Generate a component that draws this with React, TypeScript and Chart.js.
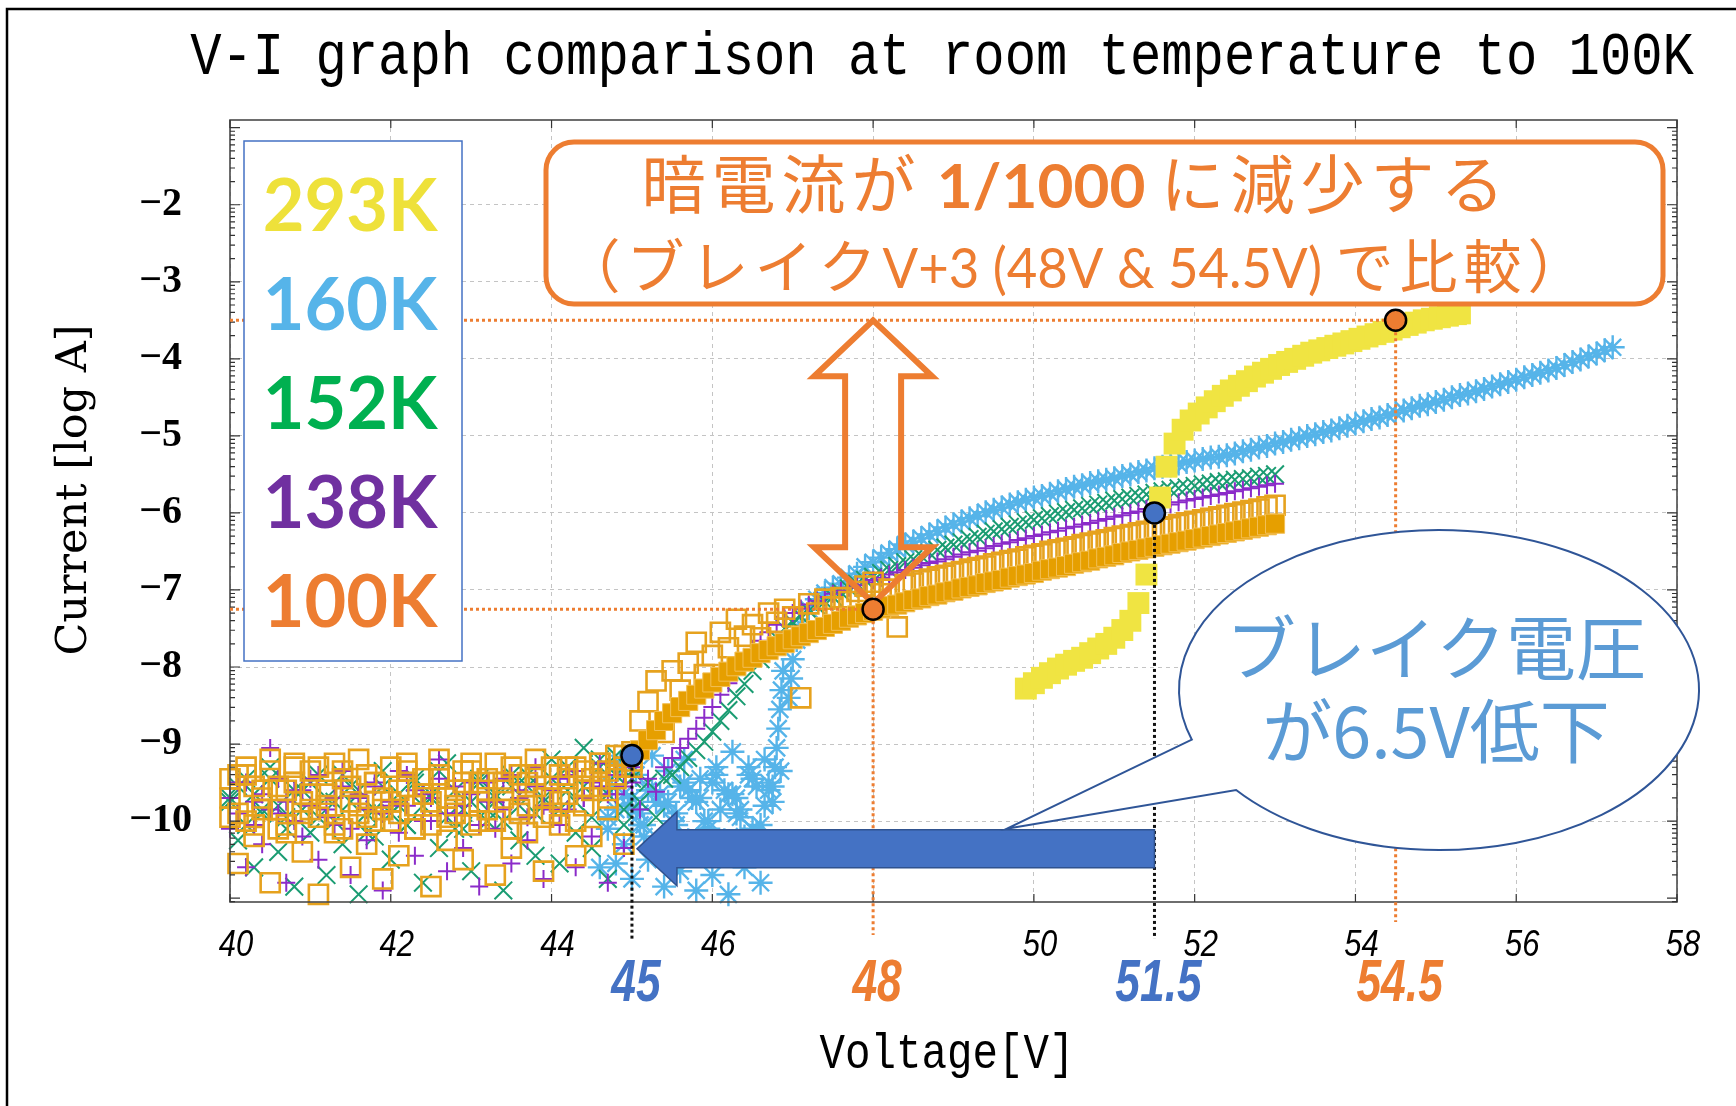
import React, { useEffect, useRef } from 'react';
import { Chart, registerables } from 'chart.js';

Chart.register(...registerables);

const W = 1736;
const H = 1106;

// ---- axes ----
const X_TICKS = [40, 42, 44, 46, 48, 50, 52, 54, 56, 58];
const X_TICK_LABELS = ['40', '42', '44', '46', '', '50', '52', '54', '56', '58'];
const Y_TICKS = [-2, -3, -4, -5, -6, -7, -8, -9, -10];

// ---- low-bias sweep voltages (V) ----
const V_LOW = [
  40.0, 40.1, 40.2, 40.3, 40.4, 40.5, 40.6, 40.7, 40.8, 40.9,
  41.0, 41.1, 41.2, 41.3, 41.4, 41.5, 41.6, 41.7, 41.8, 41.9,
  42.0, 42.1, 42.2, 42.3, 42.4, 42.5, 42.6, 42.7, 42.8, 42.9,
  43.0, 43.1, 43.2, 43.3, 43.4, 43.5, 43.6, 43.7, 43.8, 43.9,
  44.0, 44.1, 44.2, 44.3, 44.4, 44.5, 44.6, 44.7, 44.8, 44.9, 45.0,
];

// dark current below breakdown, log10(I / A)
const I100_LOW_CORE_A = [
  -9.45, -9.90, -9.30, -10.05, -9.60, -9.20, -9.85, -10.15, -9.50, -9.75,
  -9.35, -9.95, -9.65, -9.25, -10.10, -9.55, -9.80, -9.40, -10.00, -9.70,
  -9.30, -9.90, -9.55, -10.10, -9.45, -9.75, -9.20, -9.95, -9.60, -9.35,
  -10.05, -9.50, -9.85, -9.25, -9.70, -10.10, -9.40, -9.80, -9.55, -9.95,
  -9.30, -9.75, -9.45, -10.00, -9.35, -9.60, -9.25, -9.70, -9.40, -9.30, -9.22,
];
const I100_LOW_CORE_B = [
  -9.70, -9.40, -10.00, -9.55, -9.85, -9.35, -10.10, -9.60, -9.25, -9.90,
  -9.65, -9.30, -9.80, -10.05, -9.45, -9.75, -9.20, -9.95, -9.50, -9.85,
  -10.00, -9.60, -9.35, -9.80, -9.65, -10.05, -9.40, -9.70, -9.90, -9.50,
  -9.25, -9.75, -9.45, -10.00, -9.60, -9.30, -9.85, -9.50, -9.20, -9.70,
  -9.90, -9.40, -9.65, -9.30, -9.80, -9.45, -9.55, -9.35, -9.45, -9.15, -9.30,
];
const I100_LOW_SCATTER = [
  -9.95, -10.55, -9.40, -10.20, -9.70, -10.80, -9.55, -10.05, -9.30, -10.40,
  -9.85, -10.95, -9.60, -10.15, -9.35, -10.60, -9.90, -10.30, -9.50, -10.75,
  -9.75, -10.45, -9.25, -10.10, -9.65, -10.85, -9.45, -10.25, -9.80, -10.50,
  -9.35, -10.00, -9.60, -10.70, -9.50, -10.35, -9.90, -10.15, -9.40, -10.65,
  -9.70, -10.05, -9.30, -10.45, -9.55, -10.20, -9.25, -9.85, -9.15, -10.30, -9.10,
];
const I152_LOW_A = [
  -9.70, -10.25, -9.45, -10.60, -9.85, -9.30, -10.40, -9.95, -10.85, -9.60,
  -10.15, -9.40, -10.70, -9.75, -10.30, -9.55, -10.95, -9.90, -10.20, -9.35,
  -10.50, -9.80, -10.05, -9.50, -10.80, -9.65, -10.35, -9.25, -10.10, -9.85,
  -10.65, -9.45, -10.00, -9.70, -10.90, -9.55, -10.25, -9.40, -10.45, -9.75,
  -9.20, -10.55, -9.60, -10.15, -9.05, -10.35, -9.30, -10.75, -9.15, -10.05, -9.45,
];
const I152_LOW_B = [
  -9.75, -9.55, -10.05, -9.65, -9.90, -9.45, -9.80, -10.10, -9.60, -9.85,
  -9.50, -9.95, -9.70, -10.00, -9.40, -9.75, -9.60, -10.15, -9.85, -9.55,
  -9.90, -9.65, -10.05, -9.45, -9.80, -9.70, -9.35, -9.95, -9.60, -10.10,
  -9.75, -9.50, -9.85, -9.65, -10.00, -9.40, -9.80, -9.55, -9.90, -9.70,
  -9.45, -9.85, -9.30, -9.75, -9.55, -9.95, -9.20, -9.65, -9.40, -9.85, -9.35,
];
const I138_LOW_A = [
  -10.10, -9.50, -10.60, -9.75, -10.30, -9.05, -9.90, -10.80, -9.60, -10.20,
  -9.45, -10.50, -9.85, -10.05, -9.35, -10.70, -9.70, -10.25, -9.55, -10.90,
  -9.80, -10.15, -9.40, -10.45, -9.65, -10.00, -9.20, -10.65, -9.90, -10.35,
  -9.50, -10.85, -9.75, -10.10, -9.45, -10.55, -9.60, -10.25, -9.30, -10.75,
  -9.85, -10.05, -9.40, -10.60, -9.70, -10.20, -9.55, -10.80, -9.65, -10.35, -9.50,
];
const I138_LOW_B = [
  -9.70, -9.90, -9.50, -10.05, -9.65, -9.85, -9.45, -9.75, -10.00, -9.60,
  -9.80, -9.40, -9.95, -9.70, -9.55, -10.10, -9.65, -9.85, -9.50, -9.90,
  -9.75, -9.35, -9.80, -9.60, -10.00, -9.70, -9.45, -9.90, -9.55, -9.80,
  -9.65, -10.05, -9.50, -9.75, -9.85, -9.40, -9.70, -9.95, -9.55, -9.80,
  -9.60, -9.45, -9.85, -9.35, -9.70, -9.50, -9.25, -9.65, -9.40, -9.55, -9.30,
];

// 160 K low-bias sweeps
const V160_LOW_A = [44.7, 44.8, 44.9, 45.0, 45.1, 45.2, 45.3, 45.4, 45.5, 45.6, 45.7, 45.8, 45.9, 46.0, 46.1, 46.2, 46.3, 46.4, 46.5, 46.6, 46.7, 46.8];
const I160_LOW_A = [-10.10, -9.85, -10.30, -9.70, -10.05, -9.60, -10.40, -9.80, -10.15, -9.55, -10.25, -9.75, -10.00, -9.50, -10.35, -9.65, -9.90, -10.20, -9.45, -10.05, -9.60, -10.45];
const V160_LOW_B = [44.6, 44.7, 44.8, 44.9, 45.0, 45.1, 45.2, 45.3, 45.4, 45.5, 45.6, 45.7, 45.8, 45.9, 46.0, 46.1, 46.2, 46.3, 46.4, 46.5, 46.6, 46.7];
const I160_LOW_B = [-10.60, -9.95, -10.55, -9.65, -10.75, -9.90, -10.50, -9.75, -10.85, -10.00, -10.65, -9.60, -10.90, -10.20, -10.70, -9.85, -10.95, -9.70, -10.60, -10.10, -10.80, -9.50];
const V160_LOW_C = [44.75, 44.85, 44.95, 45.05, 45.15, 45.25, 45.35, 45.45, 45.55, 45.65, 45.75, 45.85, 45.95, 46.05, 46.15, 46.25, 46.35, 46.45, 46.55, 46.65, 46.75, 46.85];
const I160_LOW_C = [-9.55, -9.25, -9.80, -9.40, -10.05, -9.15, -9.65, -9.35, -9.90, -9.20, -9.70, -9.45, -10.00, -9.30, -9.60, -9.10, -9.85, -9.40, -9.55, -9.20, -9.75, -9.35];
const V160_LOW_D = [45.05, 45.15, 45.25, 45.35, 45.45, 45.55, 45.65, 45.75, 45.85, 45.95, 46.05, 46.15, 46.25, 46.35, 46.45, 46.55, 46.65, 46.75];
const I160_LOW_D = [-9.85, -10.20, -9.60, -10.45, -9.75, -10.05, -9.50, -10.30, -9.70, -10.10, -9.40, -10.25, -9.65, -9.95, -9.30, -10.15, -9.80, -9.55];

// [V, log10 I] through and above breakdown
const RISE_160K = [
  [46.78, -9.30], [46.80, -9.05], [46.82, -8.80], [46.84, -8.55], [46.86, -8.30], [46.88, -8.05],
  [46.95, -8.40], [46.98, -8.15], [47.0, -7.90], [47.05, -7.65], [47.1, -7.45], [47.2, -7.25],
  [47.3, -7.12], [47.4, -7.04], [47.5, -6.97], [47.6, -6.92], [47.7, -6.84], [47.8, -6.79], [47.9, -6.70],
  [48.0, -6.64], [48.1, -6.58], [48.2, -6.52], [48.3, -6.47], [48.4, -6.41], [48.5, -6.37], [48.6, -6.33], [48.7, -6.28], [48.8, -6.24], [48.9, -6.19],
  [49.0, -6.15], [49.1, -6.11], [49.2, -6.07], [49.3, -6.04], [49.4, -5.99], [49.5, -5.96], [49.6, -5.93], [49.7, -5.89], [49.8, -5.86], [49.9, -5.83],
  [50.0, -5.80], [50.1, -5.78], [50.2, -5.75], [50.3, -5.72], [50.4, -5.69], [50.5, -5.66], [50.6, -5.64], [50.7, -5.61], [50.8, -5.59], [50.9, -5.57],
  [51.0, -5.55], [51.1, -5.52], [51.2, -5.50], [51.3, -5.47], [51.4, -5.45], [51.5, -5.42], [51.6, -5.40], [51.7, -5.38], [51.8, -5.36], [51.9, -5.34],
  [52.0, -5.32], [52.1, -5.30], [52.2, -5.28], [52.3, -5.27], [52.4, -5.25], [52.5, -5.23], [52.6, -5.20], [52.7, -5.18], [52.8, -5.15], [52.9, -5.13],
  [53.0, -5.10], [53.1, -5.08], [53.2, -5.05], [53.3, -5.03], [53.4, -5.00], [53.5, -4.98], [53.6, -4.95], [53.7, -4.93], [53.8, -4.90], [53.9, -4.87],
  [54.0, -4.84], [54.1, -4.81], [54.2, -4.78], [54.3, -4.76], [54.4, -4.73], [54.5, -4.70], [54.6, -4.67], [54.7, -4.64], [54.8, -4.61], [54.9, -4.59],
  [55.0, -4.56], [55.1, -4.53], [55.2, -4.50], [55.3, -4.47], [55.4, -4.45], [55.5, -4.42], [55.6, -4.39], [55.7, -4.36], [55.8, -4.33], [55.9, -4.30],
  [56.0, -4.27], [56.1, -4.24], [56.2, -4.21], [56.3, -4.18], [56.4, -4.15], [56.5, -4.12], [56.6, -4.08], [56.7, -4.04], [56.8, -4.01], [56.9, -3.97],
  [57.0, -3.93], [57.1, -3.89], [57.2, -3.85],
];
const RISE_152K = [
  [45.1, -9.75], [45.2, -9.50], [45.3, -9.95], [45.4, -9.45], [45.5, -9.40], [45.6, -9.30], [45.7, -9.18], [45.8, -9.08], [45.9, -8.97],
  [46.0, -8.84], [46.1, -8.70], [46.2, -8.56], [46.3, -8.38], [46.4, -8.22], [46.5, -8.05], [46.6, -7.90], [46.7, -7.76], [46.8, -7.62], [46.9, -7.50],
  [47.0, -7.42], [47.1, -7.34], [47.2, -7.27], [47.3, -7.21], [47.4, -7.15], [47.5, -7.09], [47.6, -7.03], [47.7, -6.98], [47.8, -6.92], [47.9, -6.87],
  [48.0, -6.83], [48.1, -6.78], [48.2, -6.74], [48.3, -6.69], [48.4, -6.64], [48.5, -6.60], [48.6, -6.56], [48.7, -6.52], [48.8, -6.48], [48.9, -6.45],
  [49.0, -6.41], [49.1, -6.38], [49.2, -6.34], [49.3, -6.31], [49.4, -6.27], [49.5, -6.24], [49.6, -6.21], [49.7, -6.18], [49.8, -6.15], [49.9, -6.12],
  [50.0, -6.09], [50.1, -6.07], [50.2, -6.04], [50.3, -6.01], [50.4, -5.99], [50.5, -5.96], [50.6, -5.94], [50.7, -5.91], [50.8, -5.89], [50.9, -5.87],
  [51.0, -5.84], [51.1, -5.82], [51.2, -5.80], [51.3, -5.78], [51.4, -5.76], [51.5, -5.74], [51.6, -5.72], [51.7, -5.70], [51.8, -5.68], [51.9, -5.67],
  [52.0, -5.65], [52.1, -5.63], [52.2, -5.62], [52.3, -5.60], [52.4, -5.59], [52.5, -5.57], [52.6, -5.56], [52.7, -5.55], [52.8, -5.53], [52.9, -5.52],
  [53.0, -5.50],
];
const RISE_138K = [
  [45.1, -9.85], [45.2, -9.45], [45.3, -9.62], [45.4, -9.30], [45.5, -9.18], [45.6, -9.05], [45.7, -8.93], [45.8, -8.80], [45.9, -8.66],
  [46.0, -8.52], [46.1, -8.36], [46.2, -8.21], [46.3, -8.05], [46.4, -7.91], [46.5, -7.78], [46.6, -7.66], [46.7, -7.55], [46.8, -7.45], [46.9, -7.37],
  [47.0, -7.30], [47.1, -7.24], [47.2, -7.19], [47.3, -7.14], [47.4, -7.09], [47.5, -7.05], [47.6, -7.01], [47.7, -6.97], [47.8, -6.94], [47.9, -6.90],
  [48.0, -6.87], [48.1, -6.84], [48.2, -6.80], [48.3, -6.77], [48.4, -6.74], [48.5, -6.71], [48.6, -6.68], [48.7, -6.65], [48.8, -6.63], [48.9, -6.60],
  [49.0, -6.57], [49.1, -6.54], [49.2, -6.51], [49.3, -6.49], [49.4, -6.46], [49.5, -6.43], [49.6, -6.40], [49.7, -6.38], [49.8, -6.35], [49.9, -6.33],
  [50.0, -6.30], [50.1, -6.28], [50.2, -6.25], [50.3, -6.23], [50.4, -6.20], [50.5, -6.18], [50.6, -6.15], [50.7, -6.13], [50.8, -6.10], [50.9, -6.08],
  [51.0, -6.05], [51.1, -6.03], [51.2, -6.00], [51.3, -5.98], [51.4, -5.95], [51.5, -5.93], [51.6, -5.91], [51.7, -5.89], [51.8, -5.86], [51.9, -5.84],
  [52.0, -5.82], [52.1, -5.80], [52.2, -5.78], [52.3, -5.76], [52.4, -5.74], [52.5, -5.72], [52.6, -5.70], [52.7, -5.68], [52.8, -5.66], [52.9, -5.64],
  [53.0, -5.62],
];
const RISE_100K_CORE = [
  [45.1, -9.08], [45.2, -8.95], [45.3, -8.82], [45.4, -8.70], [45.5, -8.60], [45.6, -8.52], [45.7, -8.44], [45.8, -8.36], [45.9, -8.28],
  [46.0, -8.20], [46.1, -8.13], [46.2, -8.06], [46.3, -7.99], [46.4, -7.93], [46.5, -7.88], [46.6, -7.82], [46.7, -7.78], [46.8, -7.73], [46.9, -7.69],
  [47.0, -7.64], [47.1, -7.60], [47.2, -7.56], [47.3, -7.52], [47.4, -7.48], [47.5, -7.44], [47.6, -7.40], [47.7, -7.36], [47.8, -7.33], [47.9, -7.30],
  [48.0, -7.27], [48.1, -7.24], [48.2, -7.21], [48.3, -7.19], [48.4, -7.16], [48.5, -7.13], [48.6, -7.11], [48.7, -7.08], [48.8, -7.06], [48.9, -7.03],
  [49.0, -7.01], [49.1, -6.98], [49.2, -6.96], [49.3, -6.94], [49.4, -6.91], [49.5, -6.89], [49.6, -6.87], [49.7, -6.84], [49.8, -6.82], [49.9, -6.80],
  [50.0, -6.78], [50.1, -6.75], [50.2, -6.73], [50.3, -6.71], [50.4, -6.69], [50.5, -6.66], [50.6, -6.64], [50.7, -6.62], [50.8, -6.59], [50.9, -6.57],
  [51.0, -6.55], [51.1, -6.52], [51.2, -6.50], [51.3, -6.48], [51.4, -6.46], [51.5, -6.44], [51.6, -6.42], [51.7, -6.40], [51.8, -6.38], [51.9, -6.36],
  [52.0, -6.34], [52.1, -6.32], [52.2, -6.30], [52.3, -6.28], [52.4, -6.26], [52.5, -6.24], [52.6, -6.22], [52.7, -6.20], [52.8, -6.18], [52.9, -6.16],
  [53.0, -6.14],
];
const RISE_100K_SCATTER = [
  [45.1, -8.70], [45.2, -8.45], [45.3, -8.18], [45.4, -8.85], [45.5, -8.05], [45.6, -8.30], [45.7, -7.95], [45.8, -7.68], [45.9, -8.10],
  [46.0, -7.85], [46.1, -7.55], [46.2, -7.75], [46.3, -7.38], [46.4, -7.60], [46.5, -7.45], [46.6, -7.62], [46.7, -7.30], [46.8, -7.42], [46.9, -7.25],
  [47.0, -7.35], [47.1, -8.40], [47.2, -7.18], [47.3, -7.30], [47.4, -7.12], [47.5, -7.22], [47.6, -7.10], [47.7, -7.15], [47.8, -7.02], [47.9, -6.95],
  [48.0, -6.90], [48.1, -7.05], [48.2, -6.99], [48.3, -7.48], [48.4, -6.93], [48.5, -6.91], [48.6, -6.88], [48.7, -6.86], [48.8, -6.83], [48.9, -6.81],
  [49.0, -6.78], [49.1, -6.76], [49.2, -6.73], [49.3, -6.71], [49.4, -6.69], [49.5, -6.66], [49.6, -6.64], [49.7, -6.62], [49.8, -6.60], [49.9, -6.57],
  [50.0, -6.55], [50.1, -6.53], [50.2, -6.50], [50.3, -6.48], [50.4, -6.46], [50.5, -6.44], [50.6, -6.41], [50.7, -6.39], [50.8, -6.37], [50.9, -6.35],
  [51.0, -6.32], [51.1, -6.30], [51.2, -6.28], [51.3, -6.26], [51.4, -6.24], [51.5, -6.22], [51.6, -6.20], [51.7, -6.18], [51.8, -6.15], [51.9, -6.13],
  [52.0, -6.11], [52.1, -6.09], [52.2, -6.07], [52.3, -6.05], [52.4, -6.03], [52.5, -6.01], [52.6, -5.99], [52.7, -5.97], [52.8, -5.95], [52.9, -5.92],
  [53.0, -5.90],
];
const CURVE_293K = [
  [49.90, -8.28], [50.00, -8.21], [50.10, -8.14], [50.20, -8.08], [50.30, -8.02], [50.40, -7.97], [50.50, -7.92], [50.60, -7.88], [50.70, -7.82],
  [50.80, -7.76], [50.90, -7.70], [51.00, -7.62], [51.10, -7.52], [51.20, -7.40], [51.30, -7.17], [51.40, -6.80], [51.57, -5.80], [51.65, -5.40],
  [51.75, -5.10], [51.85, -4.92], [51.95, -4.80], [52.05, -4.71], [52.15, -4.63], [52.25, -4.55], [52.35, -4.48], [52.45, -4.41], [52.55, -4.35],
  [52.65, -4.29], [52.75, -4.23], [52.85, -4.18], [52.95, -4.13], [53.05, -4.08], [53.15, -4.04], [53.25, -4.00], [53.35, -3.96], [53.45, -3.92],
  [53.55, -3.89], [53.65, -3.86], [53.75, -3.83], [53.85, -3.80], [53.95, -3.77], [54.05, -3.74], [54.15, -3.71], [54.25, -3.68], [54.35, -3.65],
  [54.45, -3.62], [54.55, -3.59], [54.65, -3.56], [54.75, -3.53], [54.85, -3.50], [54.95, -3.48], [55.05, -3.46], [55.15, -3.44], [55.25, -3.42],
  [55.30, -3.41],
];

// breakdown voltages (blue) and breakdown + 3 V comparison points (orange)
const BREAK_POINTS = [[45, -9.15], [51.5, -6.0]];
const COMPARE_POINTS = [[48, -7.25], [54.5, -3.5]];

const LEGEND_ITEMS = [
  ['293K', '#EEE13A'],
  ['160K', '#56B4E9'],
  ['152K', '#00B050'],
  ['138K', '#7030A0'],
  ['100K', '#ED7D31'],
];

const TITLE = 'V-I graph comparison at room temperature to 100K';
const X_TITLE = 'Voltage[V]';
const Y_TITLE = 'Current [log A]';
const BOX_LINE_1 = [['暗電流が', 'cjk'], [' 1/1000 ', 'num'], ['に減少する', 'cjk']];
const BOX_LINE_2 = [['（ブレイク', 'cjk'], ['V+3 (48V & 54.5V) ', 'num'], ['で比較）', 'cjk']];
const BUBBLE_LINES = ['ブレイク電圧', 'が6.5V低下'];

const CJK = '"Noto Sans CJK JP", "Noto Sans CJK SC", sans-serif';
const BLUE = '#4472C4';
const ORANGE = '#ED7D31';

const xy = (pairs: number[][]) => pairs.map(([x, y]) => ({ x, y }));
const zip = (xs: number[], ys: number[]) => xs.map((x, i) => ({ x, y: ys[i] }));

function fillSegments(ctx: any, segs: string[][], styles: any, cx: number, baseline: number) {
  ctx.textAlign = 'left';
  ctx.textBaseline = 'alphabetic';
  const widths = segs.map(([t, k]) => {
    const s = styles[k];
    ctx.font = s.font;
    ctx.letterSpacing = (s.spacing || 0) + 'px';
    return ctx.measureText(t).width * (s.squeeze || 1);
  });
  const total = widths.reduce((a, b) => a + b, 0);
  let x = cx - total / 2;
  segs.forEach(([t, k], i) => {
    const s = styles[k];
    ctx.save();
    ctx.font = s.font;
    ctx.letterSpacing = (s.spacing || 0) + 'px';
    ctx.translate(x, baseline);
    ctx.scale(s.squeeze || 1, 1);
    ctx.fillText(t, 0, 0);
    ctx.restore();
    x += widths[i];
  });
  ctx.letterSpacing = '0px';
}

function fillCondensed(ctx: any, text: string, font: string, cx: number, baseline: number, squeeze: number) {
  ctx.save();
  ctx.font = font;
  ctx.textAlign = 'center';
  ctx.textBaseline = 'alphabetic';
  ctx.translate(cx, baseline);
  ctx.scale(squeeze, 1);
  ctx.fillText(text, 0, 0);
  ctx.restore();
}

function drawOverlay(chart: any) {
  const { ctx, chartArea: ca } = chart;
  const sx = chart.scales.x;
  const sy = chart.scales.y;
  const px = (v: number) => sx.getPixelForValue(v);
  const py = (v: number) => sy.getPixelForValue(v);
  ctx.save();

  // plot frame
  ctx.setLineDash([]);
  ctx.strokeStyle = '#4a4a4a';
  ctx.lineWidth = 1.6;
  ctx.strokeRect(ca.left, ca.top, ca.right - ca.left, ca.bottom - ca.top);

  // inward ticks (log minor ticks on the current axis)
  ctx.beginPath();
  X_TICKS.forEach((v) => {
    const x = px(v);
    ctx.moveTo(x, ca.bottom); ctx.lineTo(x, ca.bottom - 8);
    ctx.moveTo(x, ca.top); ctx.lineTo(x, ca.top + 8);
  });
  for (let d = -12; d <= -1; d++) {
    for (let k = 1; k <= 9; k++) {
      const v = d + Math.log10(k);
      if (v < sy.min || v > sy.max) continue;
      const len = k === 1 ? 10 : 5;
      const y = py(v);
      ctx.moveTo(ca.right, y); ctx.lineTo(ca.right - len, y);
      ctx.moveTo(ca.left, y); ctx.lineTo(ca.left + len, y);
    }
  }
  ctx.strokeStyle = '#333';
  ctx.lineWidth = 1.2;
  ctx.stroke();

  // voltage tick labels
  ctx.fillStyle = '#000';
  X_TICKS.forEach((v, i) => {
    fillCondensed(ctx, X_TICK_LABELS[i], 'italic 36px "Liberation Sans", Arial, sans-serif', px(v) + 6, ca.bottom + 54, 0.86);
  });

  // dotted guides to the axes
  const dotted = (color: string, x1: number, y1: number, x2: number, y2: number) => {
    ctx.beginPath();
    ctx.setLineDash([3, 3]);
    ctx.lineWidth = 3;
    ctx.strokeStyle = color;
    ctx.moveTo(x1, y1);
    ctx.lineTo(x2, y2);
    ctx.stroke();
  };
  const orangeDrop = [33, 20];
  COMPARE_POINTS.forEach(([v, i], n) => {
    dotted(ORANGE, ca.left, py(i), px(v), py(i));
    dotted(ORANGE, px(v), py(i), px(v), ca.bottom + orangeDrop[n]);
  });
  BREAK_POINTS.forEach(([v, i]) => dotted('#111', px(v), py(i), px(v), ca.bottom + 37));
  ctx.setLineDash([]);

  // temperature legend
  const lx = ca.left + 14, ly = ca.top + 21, lw = 218, lh = 520;
  ctx.fillStyle = '#fff';
  ctx.fillRect(lx, ly, lw, lh);
  ctx.strokeStyle = BLUE;
  ctx.lineWidth = 1.5;
  ctx.strokeRect(lx, ly, lw, lh);
  ctx.font = '700 72px Lato, "Open Sans", sans-serif';
  ctx.textAlign = 'center';
  ctx.textBaseline = 'alphabetic';
  LEGEND_ITEMS.forEach(([t, c], i) => {
    ctx.fillStyle = c;
    ctx.fillText(t, lx + lw / 2 - 3, ly + 90 + i * 99);
  });

  // headline box
  const bx = ca.left + 316, by = ca.top + 22, bw = 1117, bh = 162;
  ctx.beginPath();
  ctx.roundRect(bx, by, bw, bh, 28);
  ctx.fillStyle = '#fff';
  ctx.fill();
  ctx.lineWidth = 5;
  ctx.strokeStyle = ORANGE;
  ctx.stroke();
  ctx.fillStyle = ORANGE;
  fillSegments(ctx, BOX_LINE_1, {
    cjk: { font: `400 64px ${CJK}`, spacing: 6 },
    num: { font: '700 62px Lato, "Open Sans", sans-serif' },
  }, bx + 530, by + 66);
  fillSegments(ctx, BOX_LINE_2, {
    cjk: { font: `400 58px ${CJK}`, spacing: 6 },
    num: { font: '400 56px Lato, "Open Sans", sans-serif', squeeze: 0.94 },
  }, bx + 531, by + 146);

  // double-headed arrow between the two comparison currents
  {
    const cx = px(COMPARE_POINTS[0][0]);
    const top = py(COMPARE_POINTS[1][1]);
    const bot = py(COMPARE_POINTS[0][1]) - 6;
    const hh = 59, hs = 28, hl = 56;
    ctx.beginPath();
    ctx.moveTo(cx, top);
    ctx.lineTo(cx + hh, top + hl);
    ctx.lineTo(cx + hs, top + hl);
    ctx.lineTo(cx + hs, bot - hl);
    ctx.lineTo(cx + hh, bot - hl);
    ctx.lineTo(cx, bot);
    ctx.lineTo(cx - hh, bot - hl);
    ctx.lineTo(cx - hs, bot - hl);
    ctx.lineTo(cx - hs, top + hl);
    ctx.lineTo(cx - hh, top + hl);
    ctx.closePath();
    ctx.lineJoin = 'miter';
    ctx.lineWidth = 6;
    ctx.strokeStyle = ORANGE;
    ctx.stroke();
  }

  // breakdown-shift arrow
  const arrowY = py(-10.36);
  {
    const tip = px(BREAK_POINTS[0][0]) + 5;
    const tail = px(BREAK_POINTS[1][0]);
    const hl = 40, hh = 37, hs = 19;
    ctx.beginPath();
    ctx.moveTo(tip, arrowY);
    ctx.lineTo(tip + hl, arrowY - hh);
    ctx.lineTo(tip + hl, arrowY - hs);
    ctx.lineTo(tail, arrowY - hs);
    ctx.lineTo(tail, arrowY + hs);
    ctx.lineTo(tip + hl, arrowY + hs);
    ctx.lineTo(tip + hl, arrowY + hh);
    ctx.closePath();
    ctx.fillStyle = BLUE;
    ctx.fill();
    ctx.lineWidth = 1.5;
    ctx.strokeStyle = '#2F528F';
    ctx.stroke();
  }

  // speech bubble
  {
    const ecx = ca.left + 1209, ecy = ca.top + 570, rx = 260, ry = 160;
    const tipX = px(49.66), tipY = arrowY - 20;
    ctx.beginPath();
    ctx.moveTo(tipX, tipY);
    ctx.ellipse(ecx, ecy, rx, ry, 0, 2.466, 2.826, true);
    ctx.closePath();
    ctx.fillStyle = '#fff';
    ctx.fill();
    ctx.lineWidth = 2;
    ctx.strokeStyle = '#2F5597';
    ctx.stroke();
    ctx.fillStyle = '#5B9BD5';
    ctx.font = `400 70px ${CJK}`;
    ctx.textAlign = 'center';
    ctx.textBaseline = 'alphabetic';
    ctx.fillText(BUBBLE_LINES[0], ecx - 3, ecy - 15);
    ctx.fillText(BUBBLE_LINES[1], ecx - 3, ecy + 68);
  }

  // voltage call-outs under the axis
  const callouts = [
    [BREAK_POINTS[0][0], BLUE], [COMPARE_POINTS[0][0], ORANGE],
    [BREAK_POINTS[1][0], BLUE], [COMPARE_POINTS[1][0], ORANGE],
  ];
  callouts.forEach(([v, c]: any) => {
    ctx.fillStyle = c;
    fillCondensed(ctx, String(v), 'italic 700 60px "Liberation Sans", Arial, sans-serif', px(v) + 4, ca.bottom + 99, 0.74);
  });

  // titles
  ctx.fillStyle = '#000';
  fillCondensed(ctx, TITLE, '62px "Liberation Mono", monospace', 942, 74, 0.842);
  fillCondensed(ctx, X_TITLE, '50px "Liberation Mono", monospace', 947, 1068, 0.85);
  ctx.save();
  ctx.translate(75, 490);
  ctx.rotate(-Math.PI / 2);
  ctx.font = '43px "DejaVu Serif", serif';
  ctx.textAlign = 'center';
  ctx.textBaseline = 'middle';
  ctx.fillText(Y_TITLE, 0, 0);
  ctx.restore();

  // slide border
  ctx.beginPath();
  ctx.moveTo(7, H);
  ctx.lineTo(7, 9);
  ctx.lineTo(W, 9);
  ctx.lineWidth = 2.5;
  ctx.strokeStyle = '#000';
  ctx.stroke();

  ctx.restore();
}

const overlayPlugin = {
  id: 'viOverlay',
  afterDatasetDraw(chart: any, args: any) {
    if (chart.data.datasets[args.index].label === '293K') drawOverlay(chart);
  },
};

function buildDatasets() {
  const common = { showLine: false, clip: false };
  return [
    {
      ...common, label: '160K', order: 6,
      data: [
        ...zip(V160_LOW_A, I160_LOW_A), ...zip(V160_LOW_B, I160_LOW_B),
        ...zip(V160_LOW_C, I160_LOW_C), ...zip(V160_LOW_D, I160_LOW_D),
        ...xy(RISE_160K),
      ],
      pointStyle: 'star', pointRadius: 12, pointBorderWidth: 2.4,
      pointBorderColor: '#56B4E9', pointBackgroundColor: '#56B4E9',
    },
    {
      ...common, label: '152K', order: 5,
      data: [...zip(V_LOW, I152_LOW_A), ...zip(V_LOW, I152_LOW_B), ...xy(RISE_152K)],
      pointStyle: 'crossRot', pointRadius: 12.5, pointBorderWidth: 2,
      pointBorderColor: '#1A9C72', pointBackgroundColor: '#1A9C72',
    },
    {
      ...common, label: '138K', order: 4,
      data: [...zip(V_LOW, I138_LOW_A), ...zip(V_LOW, I138_LOW_B), ...xy(RISE_138K)],
      pointStyle: 'cross', pointRadius: 9, pointBorderWidth: 2,
      pointBorderColor: '#8B2BC9', pointBackgroundColor: '#8B2BC9',
    },
    {
      // open squares: repeated low-bias sweeps and the upper breakdown sweep
      ...common, label: '100K', order: 3,
      data: [
        ...zip(V_LOW, I100_LOW_SCATTER), ...zip(V_LOW, I100_LOW_CORE_A), ...zip(V_LOW, I100_LOW_CORE_B),
        ...xy(RISE_100K_SCATTER),
      ],
      pointStyle: 'rect', pointRadius: 13.5, pointBorderWidth: 2.6,
      pointBorderColor: '#E6A21E', pointBackgroundColor: 'rgba(255,255,255,0)',
    },
    {
      ...common, label: '100K', order: 2,
      data: xy(RISE_100K_CORE),
      pointStyle: 'rect', pointRadius: 13.5, pointBorderWidth: 1,
      pointBorderColor: '#F2BF55', pointBackgroundColor: '#E69F00',
    },
    {
      ...common, label: '293K', order: 1,
      data: xy(CURVE_293K),
      pointStyle: 'rect', pointRadius: 15.5, pointBorderWidth: 0,
      pointBorderColor: '#F0E442', pointBackgroundColor: '#F0E442',
    },
    {
      ...common, label: 'breakdown', order: 0,
      data: xy(BREAK_POINTS),
      pointStyle: 'circle', pointRadius: 10.5, pointBorderWidth: 2.5,
      pointBorderColor: '#000', pointBackgroundColor: BLUE,
    },
    {
      ...common, label: 'breakdown + 3V', order: 0,
      data: xy(COMPARE_POINTS),
      pointStyle: 'circle', pointRadius: 10.5, pointBorderWidth: 2.5,
      pointBorderColor: '#000', pointBackgroundColor: ORANGE,
    },
  ];
}

export default function App() {
  const canvasRef = useRef<HTMLCanvasElement>(null);

  useEffect(() => {
    const canvas = canvasRef.current;
    if (!canvas) return;
    const gridColor = '#C4C4C4';
    const chart = new Chart(canvas, {
      type: 'scatter',
      data: { datasets: buildDatasets() as any },
      options: {
        responsive: false,
        animation: false,
        devicePixelRatio: 1,
        events: [],
        layout: { padding: { top: 120, right: 59, left: 0, bottom: 0 } },
        plugins: { legend: { display: false }, tooltip: { enabled: false } },
        scales: {
          x: {
            type: 'linear',
            min: 40,
            max: 58,
            afterBuildTicks: (s: any) => { s.ticks = X_TICKS.map((v) => ({ value: v })); },
            afterFit: (s: any) => { s.height = 204; },
            grid: { color: gridColor, lineWidth: 1, drawTicks: false },
            border: { display: false, dash: [4, 4] },
            ticks: { display: false },
          },
          y: {
            type: 'linear',
            min: -11.05,
            max: -0.9,
            afterBuildTicks: (s: any) => { s.ticks = Y_TICKS.map((v) => ({ value: v })); },
            afterFit: (s: any) => { s.width = 230; },
            grid: { color: gridColor, lineWidth: 1, drawTicks: false },
            border: { display: false, dash: [4, 4] },
            ticks: {
              crossAlign: 'center',
              padding: 38,
              color: '#000',
              font: { family: '"Liberation Serif", "Times New Roman", serif', weight: 'bold', size: 40 },
              callback: (v: any) => '\u2212' + Math.abs(Number(v)),
            },
          },
        },
      } as any,
      plugins: [overlayPlugin],
    });
    return () => chart.destroy();
  }, []);

  return (
    <div style={{ position: 'fixed', left: 0, top: 0, width: W, height: H, background: '#fff' }}>
      <canvas ref={canvasRef} width={W} height={H} style={{ display: 'block', width: W, height: H }} />
    </div>
  );
}
